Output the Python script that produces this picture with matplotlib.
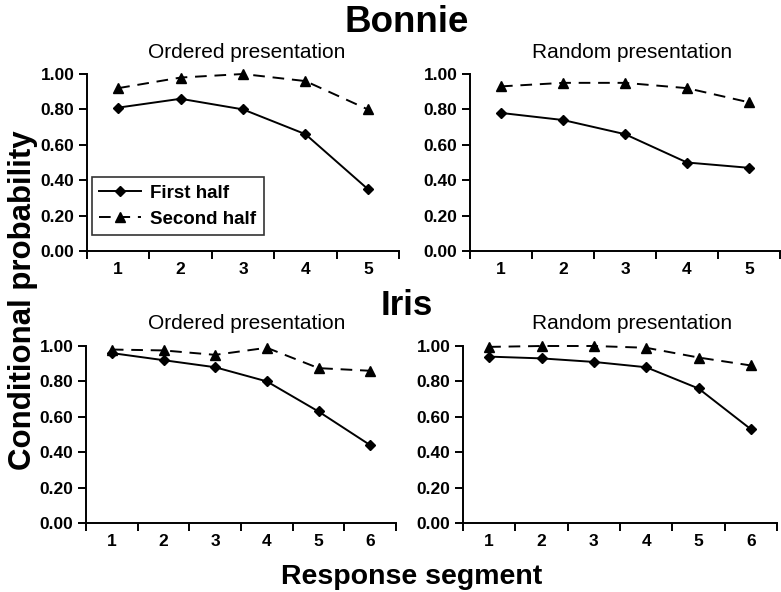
import matplotlib
matplotlib.use("Agg")
import matplotlib.pyplot as plt
from matplotlib.ticker import FixedLocator, NullFormatter, FixedFormatter

plt.rcParams['font.family'] = ['Liberation Sans', 'DejaVu Sans']

# Data
bonnie_segments = [1, 2, 3, 4, 5]
iris_segments = [1, 2, 3, 4, 5, 6]

bonnie_ordered_first = [0.81, 0.86, 0.80, 0.66, 0.35]
bonnie_ordered_second = [0.92, 0.98, 1.00, 0.96, 0.80]
bonnie_random_first = [0.78, 0.74, 0.66, 0.50, 0.47]
bonnie_random_second = [0.93, 0.95, 0.95, 0.92, 0.84]

iris_ordered_first = [0.96, 0.92, 0.88, 0.80, 0.63, 0.44]
iris_ordered_second = [0.98, 0.975, 0.95, 0.99, 0.875, 0.86]
iris_random_first = [0.94, 0.93, 0.91, 0.88, 0.76, 0.53]
iris_random_second = [0.995, 1.00, 1.00, 0.99, 0.935, 0.89]

yticks = [0.0, 0.2, 0.4, 0.6, 0.8, 1.0]
ytick_labels = ["0.00", "0.20", "0.40", "0.60", "0.80", "1.00"]

W, H = 781, 592
fig = plt.figure(figsize=(W / 100, H / 100), dpi=100)


def px_axes(left, right, top, bottom):
    return fig.add_axes([left / W, 1 - bottom / H, (right - left) / W, (bottom - top) / H])


def draw_panel(ax, x, first, second, title, title_x, title_y, legend=False):
    n = len(x)
    l1, = ax.plot(x, first, color='black', linestyle='-', linewidth=1.4,
                  marker='D', markersize=5.5, clip_on=False, label='First half')
    l2, = ax.plot(x, second, color='black', linestyle=(0, (6, 4)), linewidth=1.4,
                  marker='^', markersize=7, clip_on=False, label='Second half')
    ax.set_xlim(0.5, n + 0.5)
    ax.set_ylim(0, 1)
    for s in ['top', 'right']:
        ax.spines[s].set_visible(False)
    for s in ['left', 'bottom']:
        ax.spines[s].set_linewidth(1.4)
    ax.xaxis.set_major_locator(FixedLocator([i + 0.5 for i in range(0, n + 1)]))
    ax.xaxis.set_major_formatter(NullFormatter())
    ax.xaxis.set_minor_locator(FixedLocator(x))
    ax.xaxis.set_minor_formatter(FixedFormatter([str(v) for v in x]))
    ax.tick_params(axis='x', which='major', direction='out', length=6, width=1.4)
    ax.tick_params(axis='x', which='minor', length=0, pad=8, labelsize=12.5)
    ax.set_yticks(yticks)
    ax.set_yticklabels(ytick_labels)
    ax.tick_params(axis='y', direction='out', length=6, width=1.4, labelsize=12.5, pad=3)
    for lab in ax.get_xticklabels(which='both') + ax.get_yticklabels():
        lab.set_fontweight('bold')
    fig.text(title_x / W, 1 - title_y / H, title, ha='center', va='baseline', fontsize=15)
    if legend:
        leg = ax.legend(handles=[l1, l2], loc='lower left', bbox_to_anchor=(0.016, 0.09),
                        borderaxespad=0, frameon=True, fancybox=False, edgecolor='black',
                        prop={'weight': 'bold', 'size': 13.5}, handlelength=2.2,
                        borderpad=0.4, labelspacing=0.45, handletextpad=0.5)
        leg.get_frame().set_linewidth(1.2)


ax1 = px_axes(87, 399, 74, 251)
draw_panel(ax1, bonnie_segments, bonnie_ordered_first, bonnie_ordered_second,
           "Ordered presentation", 247, 58, legend=True)
ax2 = px_axes(470, 780, 74, 251)
draw_panel(ax2, bonnie_segments, bonnie_random_first, bonnie_random_second,
           "Random presentation", 632, 58)
ax3 = px_axes(86, 396, 346, 523)
draw_panel(ax3, iris_segments, iris_ordered_first, iris_ordered_second,
           "Ordered presentation", 247, 329)
ax4 = px_axes(463, 777, 346, 523)
draw_panel(ax4, iris_segments, iris_random_first, iris_random_second,
           "Random presentation", 632, 329)

fig.text(407 / W, 1 - 32 / H, "Bonnie", ha='center', va='baseline',
         fontsize=26.5, fontweight='bold')
fig.text(407 / W, 1 - 315 / H, "Iris", ha='center', va='baseline',
         fontsize=25, fontweight='bold')
fig.text(23 / W, 1 - 300 / H, "Conditional probability", ha='center', va='center',
         rotation=90, fontsize=22.5, fontweight='bold')
fig.text(412 / W, 1 - 584 / H, "Response segment", ha='center', va='baseline',
         fontsize=20.5, fontweight='bold')

fig.savefig("out.png", dpi=100)
